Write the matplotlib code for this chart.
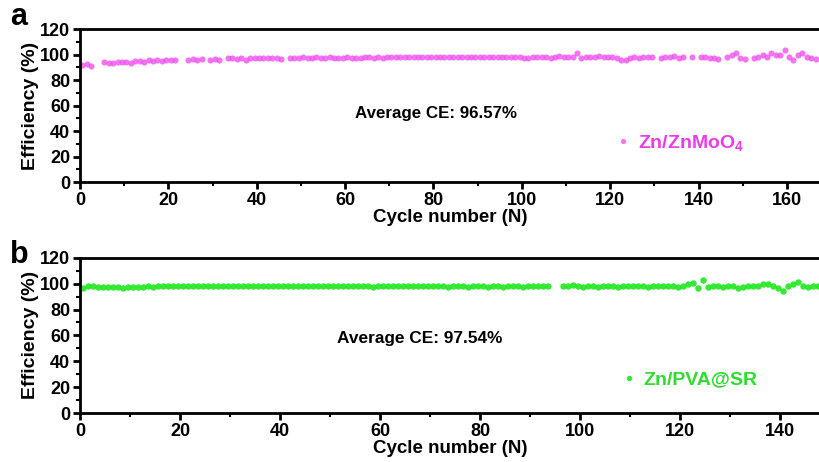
"""Coulombic efficiency of Zn/ZnMoO4 and Zn/PVA@SR cells."""

import matplotlib
matplotlib.use("Agg")
import matplotlib.pyplot as plt
from matplotlib.ticker import MultipleLocator
import numpy as np

plt.rcParams["font.family"] = ["Liberation Sans", "DejaVu Sans"]
plt.rcParams["font.weight"] = "bold"
plt.rcParams["mathtext.fontset"] = "custom"
plt.rcParams["mathtext.bf"] = "Liberation Sans:bold"
plt.rcParams["mathtext.rm"] = "Liberation Sans:bold"
plt.rcParams["mathtext.default"] = "bf"

nan = np.nan

# ---------------------------------------------------------------------------
# Data
# ---------------------------------------------------------------------------
ce_zmo = [
    92.0, 92.5, 91.0, nan, nan, 94.0, 93.5, 93.5, 94.5, 94.0,
    94.5, 93.5, 95.0, 95.0, 94.5, 95.5, 95.0, 95.5, 95.0, 95.5,
    95.5, 95.5, nan, nan, 96.0, 96.5, 96.0, 96.5, nan, 96.0,
    96.5, 95.5, nan, 97.0, 97.0, 96.5, 97.5, 96.0, 97.0, 97.5,
    97.0, 97.0, 97.5, 97.0, 97.0, 96.5, nan, 97.0, 97.5, 97.5,
    98.0, 97.0, 97.5, 98.0, 97.5, 97.5, 98.0, 97.0, 97.5, 97.5,
    98.0, 97.5, 97.0, 97.5, 98.0, 98.0, 97.5, 98.5, 97.5, 98.5,
    98.0, 98.0, 98.5, 98.5, 98.0, 98.5, 98.5, 98.0, 98.0, 98.0,
    98.5, 98.0, 98.5, 98.5, 98.5, 98.0, 98.5, 98.0, 98.0, 98.0,
    98.5, 98.5, 98.5, 98.0, 98.0, 98.5, 98.5, 98.0, 98.0, 98.5,
    97.5, 97.5, 98.0, 98.5, 98.0, 98.5, 97.0, 98.5, 99.0, 98.5,
    98.0, 98.0, 101.0, 97.5, 98.0, 98.5, 98.5, 99.0, 98.0, 98.5,
    98.5, 97.5, 96.0, 95.5, 97.0, 98.0, 97.0, 98.0, 98.0, 98.0,
    nan, 97.5, 98.0, 98.0, 99.0, 97.5, 98.0, nan, 98.0, nan,
    98.5, 98.5, 97.5, 97.0, 96.5, nan, 98.0, 99.5, 101.0, 97.5,
    96.5, nan, 97.0, 98.5, 100.0, 98.0, 101.0, 99.5, 100.0, 103.5,
    98.0, 96.0, 99.5, 101.5, 98.5, 97.0, 96.5,
]

ce_pva = [
    97.0, 98.0, 98.0, 97.5, 97.5, 97.5, 97.5, 97.5, 97.0, 97.5,
    97.5, 97.5, 97.5, 98.0, 97.5, 98.0, 98.0, 98.0, 98.0, 98.0,
    98.0, 98.0, 98.0, 98.5, 98.0, 98.0, 98.0, 98.5, 98.0, 98.0,
    98.0, 98.5, 98.0, 98.0, 98.5, 98.0, 98.0, 98.0, 98.5, 98.0,
    98.0, 98.0, 98.5, 98.0, 98.0, 98.0, 98.5, 98.0, 98.0, 98.0,
    98.0, 98.5, 98.0, 98.0, 98.0, 98.5, 98.0, 98.0, 97.5, 98.0,
    98.0, 98.5, 98.0, 98.0, 98.0, 98.5, 98.0, 98.5, 98.0, 98.0,
    98.5, 98.0, 98.0, 97.5, 98.0, 98.0, 98.5, 97.5, 98.0, 98.5,
    98.0, 97.5, 98.0, 98.5, 97.5, 98.0, 98.0, 98.5, 97.5, 98.0,
    98.0, 98.0, 98.0, 98.0, nan, nan, 98.0, 98.5, 99.0, 98.0,
    97.5, 98.0, 98.0, 97.5, 98.0, 98.0, 98.0, 97.5, 98.0, 98.0,
    98.5, 98.0, 98.0, 97.5, 98.0, 98.5, 98.0, 98.5, 98.0, 97.5,
    98.5, 99.5, 100.5, 97.0, 102.5, 97.5, 98.0, 98.0, 97.5, 98.0,
    98.0, 96.5, 97.5, 98.0, 98.5, 98.0, 99.5, 100.0, 98.0, 96.5,
    94.5, 98.0, 99.5, 101.0, 98.5, 97.5, 98.0, 98.0,
]

cycles_zmo = np.arange(1, len(ce_zmo) + 1) - 0.5
cycles_pva = np.arange(1, len(ce_pva) + 1) - 0.5

label_zmo = "Zn/ZnMoO$_{\\mathregular{4}}$"
label_pva = "Zn/PVA@SR"
avg_zmo = "Average CE: 96.57%"
avg_pva = "Average CE: 97.54%"

# ---------------------------------------------------------------------------
# Figure
# ---------------------------------------------------------------------------
fig = plt.figure(figsize=(8.2, 4.62), dpi=100)
ax_a = fig.add_axes([0.0976, 0.606, 0.9024, 0.331])
ax_b = fig.add_axes([0.0976, 0.106, 0.9024, 0.336])


def style_axis(ax, xmax, xmajor):
    ax.set_xlim(0, xmax)
    ax.set_ylim(0, 120)
    ax.xaxis.set_major_locator(MultipleLocator(xmajor))
    ax.xaxis.set_minor_locator(MultipleLocator(xmajor / 2))
    ax.yaxis.set_major_locator(MultipleLocator(20))
    ax.yaxis.set_minor_locator(MultipleLocator(10))
    for side in ("left", "bottom", "top"):
        ax.spines[side].set_linewidth(2.0)
    ax.spines["right"].set_visible(False)
    ax.tick_params(which="major", direction="out", length=5, width=2,
                   labelsize=13, pad=2)
    ax.tick_params(which="minor", direction="out", length=3, width=1.5)
    ax.tick_params(axis="x", which="both", top=False)
    for lbl in ax.get_xticklabels() + ax.get_yticklabels():
        lbl.set_fontweight("bold")
    ax.set_xlabel("Cycle number (N)", fontsize=13.5, fontweight="bold", labelpad=0)
    ax.set_ylabel("Efficiency (%)", fontsize=14, fontweight="bold", labelpad=1)


style_axis(ax_a, 167.5, 20)
style_axis(ax_b, 148, 20)

ax_a.plot(cycles_zmo, ce_zmo, "o", ms=4.4, color="#f050f0", alpha=0.8,
          mec="none", label=label_zmo)
ax_b.plot(cycles_pva, ce_pva, "o", ms=4.6, color="#1ee81e", alpha=0.9,
          mec="none", label=label_pva)

ax_a.text(0.481, 0.45, avg_zmo, transform=ax_a.transAxes, ha="center",
          va="center", fontsize=12.2, fontweight="bold")
ax_b.text(0.459, 0.48, avg_pva, transform=ax_b.transAxes, ha="center",
          va="center", fontsize=12.4, fontweight="bold")

for ax, colour, anchor in ((ax_a, "#ea3cea", (0.716, 0.255)),
                           (ax_b, "#2fdc2f", (0.723, 0.215))):
    ax.legend(loc="center left", bbox_to_anchor=anchor, frameon=False,
              handlelength=0.6, handletextpad=0.45, markerscale=0.85,
              labelcolor=colour, borderaxespad=0,
              prop={"weight": "bold", "size": 14})

fig.text(0.012, 0.963, "a", fontsize=22, fontweight="bold", va="center")
fig.text(0.012, 0.447, "b", fontsize=22, fontweight="bold", va="center")

fig.savefig("out.png", dpi=100)
plt.close(fig)
